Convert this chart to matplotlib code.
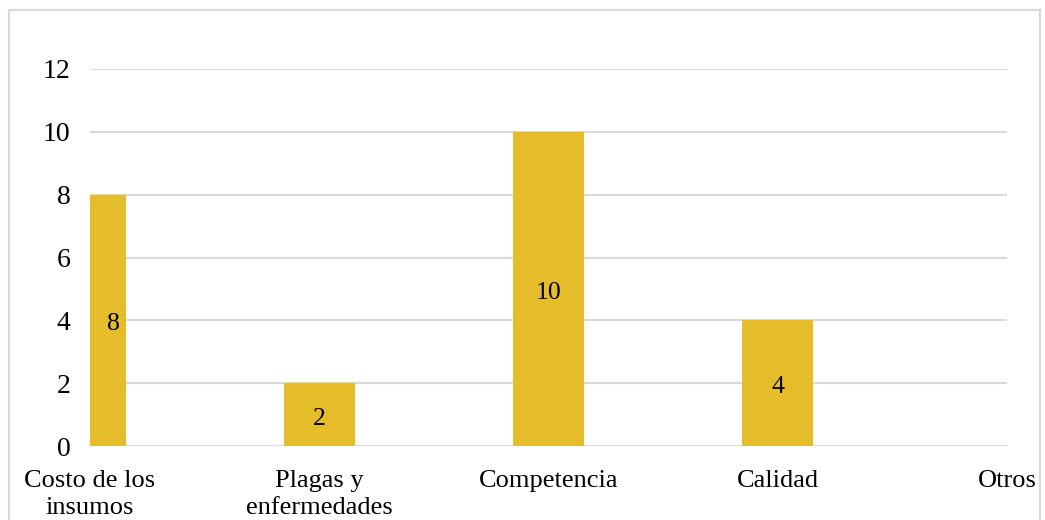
import matplotlib
matplotlib.use("Agg")
import matplotlib.pyplot as plt
from matplotlib.patches import Rectangle

categories = ["Costo de los\ninsumos", "Plagas y\nenfermedades", "Competencia", "Calidad", "Otros"]
values = [8, 2, 10, 4, 0]
yticks = [0, 2, 4, 6, 8, 10, 12]

plt.rcParams['font.family'] = ['Liberation Serif', 'DejaVu Serif']

fig = plt.figure(figsize=(10.45, 5.2), dpi=100)
fig.patches.append(Rectangle((9/1045, -0.01), (1040-9)/1045, 1.0 - 10/520 + 0.01,
                             transform=fig.transFigure, fill=False,
                             edgecolor='#D9D9D9', linewidth=1.5))
ax = fig.add_axes([90/1045, 74/520, (1007-90)/1045, (446-69)/520])

x = list(range(len(categories)))
width = 0.31
bars = ax.bar(x, values, width=width, color='#E5BC2A', zorder=3)
ax.set_xlim(0, len(categories) - 1)
ax.set_ylim(0, 12)
ax.set_yticks(yticks)
ax.set_xticks(x)
ax.set_xticklabels(categories, fontsize=19, linespacing=1.3)
ax.tick_params(axis='y', labelsize=20, length=0, pad=14)
ax.tick_params(axis='x', length=0, pad=17)
ax.grid(axis='y', color='#D9D9D9', linewidth=1.5, zorder=0)
for s in ax.spines.values():
    s.set_visible(False)

xmin, xmax = ax.get_xlim()
for xi, v in zip(x, values):
    if v == 0:
        continue
    left = max(xi - width / 2, xmin)
    right = min(xi + width / 2, xmax)
    clipped = (right - left) < width * 0.99
    xpos = left + (right - left) * (0.67 if clipped else 0.5)
    ax.annotate(str(v), (xpos, v / 2), xytext=(0, -3), textcoords='offset points',
                ha='center', va='center', fontsize=18.5, color='black', zorder=4)

fig.savefig("out.png", dpi=100)
